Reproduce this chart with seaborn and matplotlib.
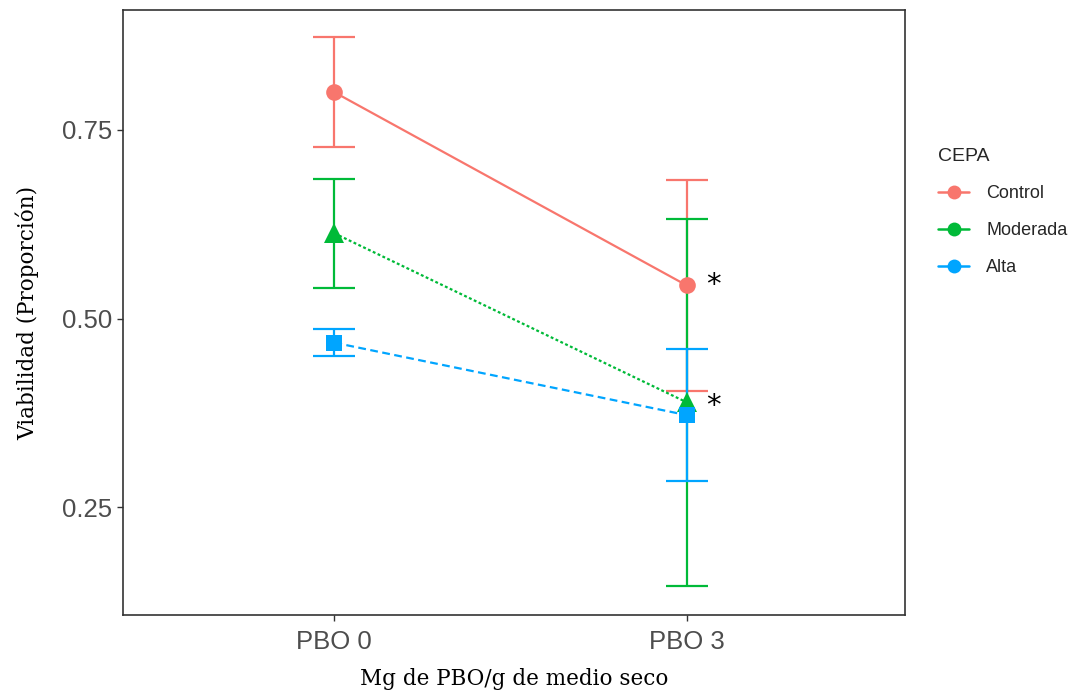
import numpy as np
import pandas as pd
import matplotlib
matplotlib.use("Agg")
import matplotlib.pyplot as plt
import seaborn as sns
from matplotlib.lines import Line2D

# ---- data ----
dosis = ["PBO 0", "PBO 3"]
cepas = ["Control", "Moderada", "Alta"]
control_mean = [0.800, 0.544]
control_err = [0.073, 0.140]
moderada_mean = [0.613, 0.389]
moderada_err = [0.072, 0.243]
alta_mean = [0.468, 0.372]
alta_err = [0.018, 0.087]
y_ticks = [0.25, 0.50, 0.75]
y_tick_labels = ["0.25", "0.50", "0.75"]
sig_labels = ["*", "*"]
sig_y = [0.544, 0.384]

colors = {"Control": "#F8766D", "Moderada": "#00BA38", "Alta": "#00A5FF"}
markers = {"Control": "o", "Moderada": "^", "Alta": "s"}
dashes = {"Control": "", "Moderada": (1.3, 1.1), "Alta": (3.5, 2)}

means = {"Control": control_mean, "Moderada": moderada_mean, "Alta": alta_mean}
errs = {"Control": control_err, "Moderada": moderada_err, "Alta": alta_err}

rows = []
for c in cepas:
    for i, d in enumerate(dosis):
        rows.append({"CEPA": c, "dosis": d, "x": i, "mean": means[c][i], "err": errs[c][i]})
df = pd.DataFrame(rows)

sns.set_theme(style="white")
fig = plt.figure(figsize=(10.78, 6.96), dpi=100)
ax = fig.add_axes([123 / 1078, 1 - 615 / 696, (905 - 123) / 1078, (615 - 10) / 696])

# error bars first
for c in cepas:
    sub = df[df.CEPA == c]
    ax.errorbar(sub["x"], sub["mean"], yerr=sub["err"], fmt="none",
                ecolor=colors[c], elinewidth=1.6, capsize=15, capthick=1.6, zorder=2)

sns.lineplot(data=df, x="x", y="mean", hue="CEPA", style="CEPA",
             hue_order=cepas, style_order=cepas, palette=colors,
             markers=markers, dashes=dashes, markersize=12, markeredgewidth=0,
             linewidth=1.6, legend=False, ax=ax, zorder=3)
for ln in ax.lines:
    if ln.get_marker() == "^":
        ln.set_markersize(14)
    elif ln.get_marker() == "s":
        ln.set_markersize(11)

for i, (lab, yv) in enumerate(zip(sig_labels, sig_y)):
    ax.text(1.077, yv, lab, fontsize=21, color="black", ha="center", va="center",
            family="DejaVu Sans")

ax.set_xlim(-0.6, 1.62)
ax.set_ylim(0.107, 0.909)
ax.set_xticks([0, 1])
ax.set_xticklabels(dosis)
ax.set_yticks(y_ticks)
ax.set_yticklabels(y_tick_labels)
ax.tick_params(axis="both", which="both", length=4, width=1, color="#333333",
               labelsize=18.5, labelcolor="#4D4D4D", direction="out", bottom=True, left=True,
               pad=4)
ax.tick_params(axis="x", pad=7)
for lab in ax.get_xticklabels() + ax.get_yticklabels():
    lab.set_family("Liberation Sans")
ax.set_xlabel("Mg de PBO/g de medio seco", family="DejaVu Serif", fontsize=15.5, color="black", labelpad=10)
ax.set_ylabel("Viabilidad (Proporción)", family="DejaVu Serif", fontsize=15.5, color="black", labelpad=16)
for s in ax.spines.values():
    s.set_color("#333333")
    s.set_linewidth(1.2)
ax.grid(False)

# legend
handles = [Line2D([0], [0], color=colors[c], marker="o", markersize=10, linewidth=1.8,
                  markeredgewidth=0) for c in cepas]
leg = fig.legend(handles, cepas, title="CEPA", loc="upper left",
                 bbox_to_anchor=(922 / 1078, 1 - 132 / 696), frameon=False,
                 prop={"family": "Liberation Sans", "size": 13},
                 handlelength=1.7, labelspacing=1.1, handletextpad=0.95)
leg.get_title().set_fontsize(14)
leg.get_title().set_family("Liberation Sans")
leg._legend_box.align = "left"

fig.savefig("out.png", dpi=100)
